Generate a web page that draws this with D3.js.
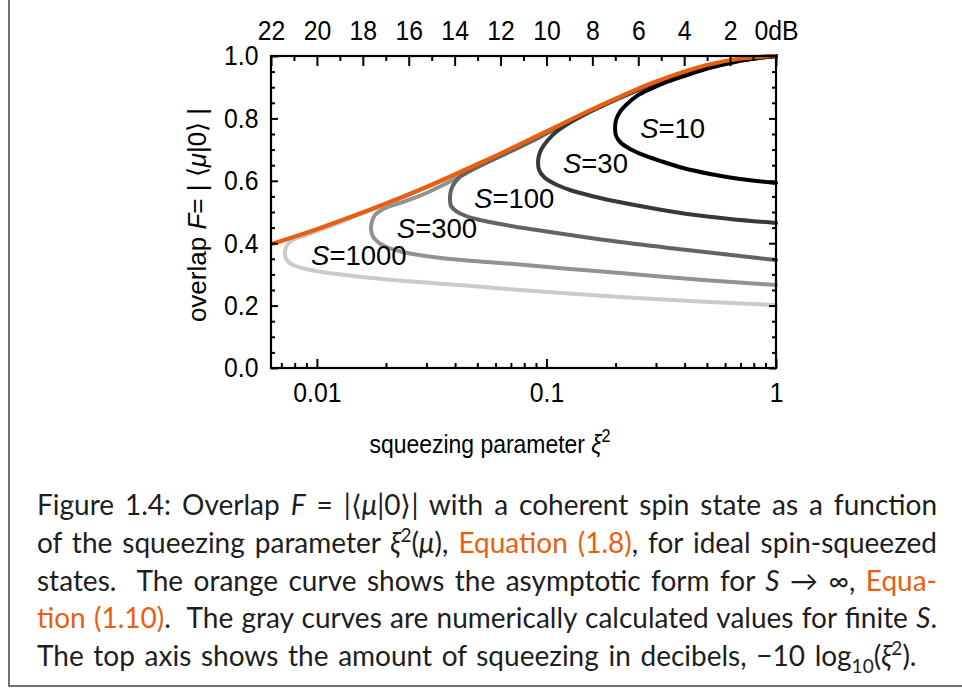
<!DOCTYPE html>
<html>
<head>
<meta charset="utf-8">
<script src="https://cdn.jsdelivr.net/npm/d3@7"></script>
<style>
    body { margin: 0; background: #fff; }
    svg { display: block; }
</style>
</head>
<body>
<svg id="fig" width="962" height="688"></svg>
<script>
/*
    overlap of ideal spin-squeezed states with the coherent spin state
*/

// bottom axis (squeezing parameter xi^2, log scale)
const xiMajor = [0.01, 0.1, 1];
const xiMajorLabels = ["0.01", "0.1", "1"];
const xiMinor = [0.007, 0.008, 0.009, 0.02, 0.03, 0.04, 0.05, 0.06, 0.07, 0.08, 0.09,
    0.2, 0.3, 0.4, 0.5, 0.6, 0.7, 0.8, 0.9];

// top axis (squeezing in dB)
const dbMajor = [22, 20, 18, 16, 14, 12, 10, 8, 6, 4, 2, 0];
const dbMajorLabels = ["22", "20", "18", "16", "14", "12", "10", "8", "6", "4", "2", "0dB"];
const dbMinor = [21, 19, 17, 15, 13, 11, 9, 7, 5, 3, 1];

// left axis (overlap F)
const fMajor = [0, 0.2, 0.4, 0.6, 0.8, 1.0];
const fMajorLabels = ["0.0", "0.2", "0.4", "0.6", "0.8", "1.0"];
const fMinor = [0.05, 0.1, 0.15, 0.25, 0.3, 0.35, 0.45, 0.5, 0.55, 0.65, 0.7, 0.75, 0.85, 0.9, 0.95];

// curves: [xi^2, F]
const curveInf = [
    [0.0063, 0.397], [0.01, 0.445], [0.02, 0.527], [0.03, 0.58], [0.05, 0.653],
    [0.07, 0.703], [0.1, 0.758], [0.15, 0.821], [0.2, 0.863], [0.3, 0.918],
    [0.5, 0.971], [0.7, 0.992], [1, 1]
];
const curveS10 = [
    [1, 1], [0.852, 0.994], [0.664, 0.981], [0.516, 0.962], [0.41, 0.939], [0.335, 0.917],
    [0.283, 0.894], [0.248, 0.872], [0.2245, 0.846], [0.209, 0.821], [0.201, 0.795], [0.199, 0.769],
    [0.201, 0.744], [0.2114, 0.721], [0.2313, 0.702], [0.2635, 0.683], [0.3126, 0.664],
    [0.394, 0.641], [0.516, 0.622], [0.698, 0.606], [1, 0.593]
];
const curveS30 = [
    [1, 1], [0.698, 0.99], [0.467, 0.9615], [0.2557, 0.894], [0.1713, 0.8365], [0.1401, 0.8045],
    [0.1217, 0.7788], [0.1101, 0.7564], [0.1016, 0.7308], [0.0957, 0.7051], [0.0929, 0.6827],
    [0.0919, 0.6603], [0.0929, 0.6346], [0.0976, 0.6122], [0.1069, 0.5929], [0.1267, 0.5705],
    [0.1713, 0.5449], [0.2557, 0.5192], [0.41, 0.4936], [0.631, 0.4776], [1, 0.4647]
];
const curveS100 = [
    [1, 1], [0.467, 0.961], [0.2093, 0.867], [0.1267, 0.7917], [0.0938, 0.7404], [0.0767, 0.7083],
    [0.066, 0.6859], [0.0574, 0.6651], [0.0509, 0.6474], [0.046, 0.6314], [0.0425, 0.6154],
    [0.04, 0.5962], [0.0384, 0.5705], [0.038, 0.5449], [0.0384, 0.5192], [0.0404, 0.5032],
    [0.0446, 0.4872], [0.0514, 0.4744], [0.0628, 0.4615], [0.0848, 0.4455], [0.1267, 0.4263],
    [0.2093, 0.4038], [0.41, 0.3782], [0.698, 0.359], [1, 0.3462]
];
const curveS300 = [
    [1, 1], [0.467, 0.9615], [0.2093, 0.867], [0.0938, 0.7452], [0.0694, 0.6971], [0.0514, 0.6474],
    [0.042, 0.6138], [0.0344, 0.5817], [0.0293, 0.5577], [0.0255, 0.5401], [0.0226, 0.5272],
    [0.0204, 0.516], [0.0188, 0.5032], [0.0179, 0.4904], [0.0174, 0.4712], [0.0172, 0.4455],
    [0.0176, 0.4199], [0.0187, 0.4006], [0.0206, 0.3846], [0.0237, 0.3718], [0.0287, 0.3606],
    [0.0362, 0.351], [0.0514, 0.3413], [0.0767, 0.3317], [0.1267, 0.3173], [0.2093, 0.3045],
    [0.4813, 0.2821], [1, 0.266]
];
const curveS1000 = [
    [1, 1], [0.467, 0.9615], [0.2093, 0.867], [0.0938, 0.745], [0.042, 0.625], [0.023, 0.5433],
    [0.0154, 0.492], [0.012, 0.4599], [0.0101, 0.4397], [0.00887, 0.4247], [0.00811, 0.4151],
    [0.00764, 0.4038], [0.00734, 0.3878], [0.00726, 0.3686], [0.00734, 0.3494], [0.00764, 0.3365],
    [0.00819, 0.3253], [0.00915, 0.3157], [0.01085, 0.3061], [0.01394, 0.2965], [0.0215, 0.2821],
    [0.042, 0.266], [0.0767, 0.25], [0.2093, 0.2276], [0.467, 0.2131], [1, 0.2019]
];

const curves = [
    { name: "1000", data: curveS1000, colour: "#cbcbcb", label: [0.00943, 0.362] },
    { name: "300", data: curveS300, colour: "#929292", label: [0.0223, 0.449] },
    { name: "100", data: curveS100, colour: "#636363", label: [0.0484, 0.545] },
    { name: "30", data: curveS30, colour: "#383838", label: [0.118, 0.657] },
    { name: "10", data: curveS10, colour: "#000000", label: [0.256, 0.769] }
];

// caption, one array of [text, style] per line
const captionLines = [
    [["Figure 1.4: Overlap "], ["F", "i"], [" = |⟨"], ["μ", "i"], ["|0⟩| with a coherent spin state as a function"]],
    [["of the squeezing parameter "], ["ξ", "i"], ["2", "sup"], ["("], ["μ", "i"], ["), "],
        ["Equation (1.8)", "o"], [", for ideal spin-squeezed"]],
    [["states.  The orange curve shows the asymptotic form for "], ["S", "i"], [" → ∞, "], ["Equa-", "o"]],
    [["tion (1.10)", "o"], [".  The gray curves are numerically calculated values for finite "], ["S", "i"], ["."]],
    [["The top axis shows the amount of squeezing in decibels, −10 log"], ["10", "sub"], ["("], ["ξ", "i"],
        ["2", "sup"], [")."]]
];

const plot = { left: 271, right: 776, top: 56, bottom: 368 };
const tickFont = "'Liberation Sans', Arial, sans-serif";
const orange = "#e6600f";
// the figure's lettering is a little narrow for its height
const narrow = "scale(0.9,1)";

const svg = d3.select("#fig");

const x = d3.scaleLog().domain([Math.pow(10, -2.2), 1]).range([plot.left, plot.right]);
const y = d3.scaleLinear().domain([0, 1]).range([plot.bottom, plot.top]);
const db = d3.scaleLinear().domain([22, 0]).range([plot.left, plot.right]);

// outer box
svg.append("path")
    .attr("d", "M9,0V686H962")
    .attr("fill", "none")
    .attr("stroke", "#444")
    .attr("stroke-width", 1.5);

// curves
const line = d3.line()
    .x(d => x(d[0]))
    .y(d => y(d[1]))
    .curve(d3.curveCatmullRom.alpha(0.5));

const gCurves = svg.append("g");
curves.forEach(c => {
    gCurves.append("path")
        .datum(c.data)
        .attr("d", line)
        .attr("fill", "none")
        .attr("stroke", c.colour)
        .attr("stroke-width", 4)
        .attr("stroke-linecap", "round");
});
gCurves.append("path")
    .datum(curveInf)
    .attr("d", line)
    .attr("fill", "none")
    .attr("stroke", orange)
    .attr("stroke-width", 4.2);

// curve labels
curves.forEach(c => {
    const t = svg.append("text")
        .attr("x", x(c.label[0]))
        .attr("y", y(c.label[1]))
        .attr("dy", "0.36em")
        .attr("font-family", tickFont)
        .attr("font-size", 27.5)
        .attr("fill", "#000");
    t.append("tspan").attr("font-style", "italic").text("S");
    t.append("tspan").text(`=${c.name}`);
});

// axes
function styleAxis(g) {
    g.select(".domain").remove();
    g.selectAll(".tick line").attr("stroke", "#000").attr("stroke-width", 2);
    g.selectAll(".tick text")
        .attr("font-family", tickFont)
        .attr("font-size", 27.5)
        .attr("transform", narrow)
        .attr("fill", "#000");
}

svg.append("g")
    .attr("transform", `translate(0,${plot.bottom})`)
    .call(d3.axisBottom(x).tickValues(xiMajor).tickSize(-9).tickPadding(14)
        .tickFormat((d, i) => xiMajorLabels[i]))
    .call(styleAxis);
svg.append("g")
    .attr("transform", `translate(0,${plot.bottom})`)
    .call(d3.axisBottom(x).tickValues(xiMinor).tickSize(-5).tickFormat(""))
    .call(styleAxis);

svg.append("g")
    .attr("transform", `translate(0,${plot.top})`)
    .call(d3.axisTop(db).tickValues(dbMajor).tickSize(-10).tickPadding(16)
        .tickFormat((d, i) => dbMajorLabels[i]))
    .call(styleAxis);
svg.append("g")
    .attr("transform", `translate(0,${plot.top})`)
    .call(d3.axisTop(db).tickValues(dbMinor).tickSize(-5).tickFormat(""))
    .call(styleAxis);

svg.append("g")
    .attr("transform", `translate(${plot.left},0)`)
    .call(d3.axisLeft(y).tickValues(fMajor).tickSize(-7).tickPadding(14)
        .tickFormat((d, i) => fMajorLabels[i]))
    .call(styleAxis);
svg.append("g")
    .attr("transform", `translate(${plot.left},0)`)
    .call(d3.axisLeft(y).tickValues(fMinor).tickSize(-4).tickFormat(""))
    .call(styleAxis);

svg.append("g")
    .attr("transform", `translate(${plot.right},0)`)
    .call(d3.axisRight(y).tickValues(fMajor).tickSize(-7).tickFormat(""))
    .call(styleAxis);
svg.append("g")
    .attr("transform", `translate(${plot.right},0)`)
    .call(d3.axisRight(y).tickValues(fMinor).tickSize(-4).tickFormat(""))
    .call(styleAxis);

// frame
svg.append("rect")
    .attr("x", plot.left)
    .attr("y", plot.top)
    .attr("width", plot.right - plot.left)
    .attr("height", plot.bottom - plot.top)
    .attr("fill", "none")
    .attr("stroke", "#000")
    .attr("stroke-width", 2.2);

// axis titles
const xTitle = svg.append("text")
    .attr("transform", `translate(490,453) ${narrow}`)
    .attr("text-anchor", "middle")
    .attr("font-family", tickFont)
    .attr("font-size", 25.5);
xTitle.append("tspan").text("squeezing parameter ");
xTitle.append("tspan").attr("font-style", "italic").text("ξ");
xTitle.append("tspan").attr("dy", -11).attr("font-size", 18).text("2");

const yTitle = svg.append("text")
    .attr("transform", "translate(206,215) rotate(-90)")
    .attr("text-anchor", "middle")
    .attr("font-family", tickFont)
    .attr("font-size", 26);
yTitle.append("tspan").text("overlap ");
yTitle.append("tspan").attr("font-style", "italic").text("F");
yTitle.append("tspan").text("= | ⟨");
yTitle.append("tspan").attr("font-style", "italic").text("μ");
yTitle.append("tspan").text("|0⟩ |");

// caption
const capLeft = 37, capRight = 937, capTop = 515, capStep = 37.8;
captionLines.forEach((segs, li) => {
    const t = svg.append("text")
        .attr("x", capLeft)
        .attr("y", capTop + li * capStep)
        .attr("font-family", "Lato, 'Open Sans', sans-serif")
        .attr("font-size", 28)
        .attr("fill", "#1e1e1e")
        .attr("xml:space", "preserve");
    let shift = 0;
    segs.forEach(([txt, st]) => {
        const s = t.append("tspan").text(txt);
        if (st === "i") s.attr("font-style", "italic");
        if (st === "o") s.attr("fill", orange);
        if (st === "sup" || st === "sub") {
            const d = st === "sup" ? -11 : 7;
            s.attr("font-size", 19).attr("dy", d - shift);
            shift = d;
        } else if (shift) {
            // back to the baseline
            s.attr("dy", -shift);
            shift = 0;
        }
    });
    // justify all lines but the last, which keeps a slightly wider space
    if (li < captionLines.length - 1) {
        const natural = t.node().getComputedTextLength();
        const spaces = segs.map(s => s[0]).join("").split(" ").length - 1;
        t.attr("word-spacing", (capRight - capLeft - natural) / spaces);
    } else {
        t.attr("word-spacing", 2.5);
    }
});
</script>
</body>
</html>
